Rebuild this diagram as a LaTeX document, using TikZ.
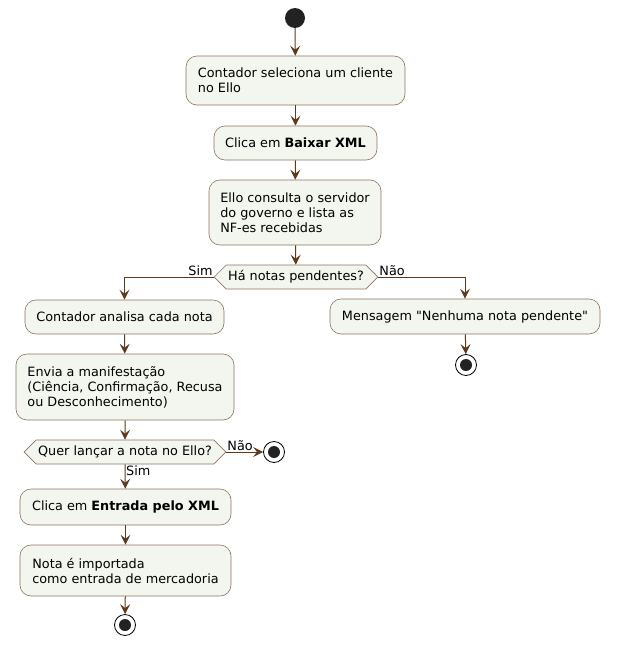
\documentclass[tikz,border=0pt]{standalone}
\usepackage{fontspec}
\setmainfont[Ligatures=TeXOff]{DejaVu Sans}
\usetikzlibrary{arrows.meta,shapes.symbols}
\definecolor{boxfill}{HTML}{F3F6EE}
\definecolor{boxline}{HTML}{8E7262}
\definecolor{arrowc}{HTML}{5E3A1C}
\definecolor{dot}{HTML}{222222}
\begin{document}
\begin{tikzpicture}[x=1pt,y=-1pt,
  every node/.style={font=\fontsize{12.8}{15}\selectfont},
  act/.style={draw=boxline,fill=boxfill,rounded corners=11pt,align=left,inner xsep=10pt,line width=0.6pt},
  dec/.style={draw=boxline,fill=boxfill,shape=signal,signal to=east and west,signal pointer angle=90,minimum height=24pt,inner xsep=2pt,inner ysep=0pt,line width=0.6pt},
  startc/.style={circle,fill=dot,minimum size=20pt,inner sep=0pt},
  stopc/.style={circle,draw=black,line width=0.8pt,fill=white,minimum size=21pt,inner sep=0pt,
     path picture={\fill[dot] (path picture bounding box.center) circle (6pt);}},
  flow/.style={draw=arrowc,line width=1pt,-{Stealth[length=10pt,width=10pt,inset=4pt]}},
  lbl/.style={font=\fontsize{12.8}{15}\selectfont,inner sep=1pt}
]
\useasboundingbox (0,0) rectangle (619,656);

\node[startc] (start) at (295,18) {};
\node[act,minimum width=219pt,minimum height=49pt] (b1) at (295.5,80.5) {Contador seleciona um cliente\\no Ello};
\node[act,minimum width=163pt,minimum height=34pt] (b2) at (295.5,143) {Clica em \textbf{Baixar XML}};
\node[act,minimum width=172pt,minimum height=65pt] (b3) at (295,212.5) {Ello consulta o servidor\\do governo e lista as\\NF-es recebidas};
\node[dec] (d1) at (296,277) {Há notas pendentes?};

\node[act,minimum width=199pt,minimum height=34pt] (b4) at (124.5,317) {Contador analisa cada nota};
\node[act,minimum width=218pt,minimum height=66pt] (b5) at (125,387) {Envia a manifestação\\(Ciência, Confirmação, Recusa\\ou Desconhecimento)};
\node[dec] (d2) at (125,452) {Quer lançar a nota no Ello?};
\node[stopc] (s2) at (274,452) {};
\node[act,minimum width=211pt,minimum height=36pt] (b6) at (125.5,507) {Clica em \textbf{Entrada pelo XML}};
\node[act,minimum width=211pt,minimum height=51pt] (b7) at (125.5,570.5) {Nota é importada\\como entrada de mercadoria};
\node[stopc] (s3) at (125,625) {};

\node[act,minimum width=270pt,minimum height=35pt] (bR) at (465,316.5) {Mensagem "Nenhuma nota pendente"};
\node[stopc] (sR) at (466,365) {};

\path[flow] (start) -- (b1);
\path[flow] (b1) -- (b2);
\path[flow] (b2) -- (b3);
\path[flow] (b3) -- (d1);
\path[flow] (d1.west) -| (b4.north);
\path[flow] (d1.east) -| (bR.north);
\node[lbl,anchor=south east] (l1) at (d1.west) {Sim};
\node[lbl,anchor=south west] (l2) at (d1.east) {Não};
\path[flow] (b4) -- (b5);
\path[flow] (b5) -- (d2);
\path[flow] (d2.east) -- (s2);
\node[lbl,anchor=south west] (l3) at (d2.east) {Não};
\path[flow] (d2.south) -- (b6);
\node[lbl,anchor=north west] (l4) at (d2.south) {Sim};
\path[flow] (b6) -- (b7);
\path[flow] (b7) -- (s3);
\path[flow] (bR) -- (sR);
\end{tikzpicture}
\end{document}
